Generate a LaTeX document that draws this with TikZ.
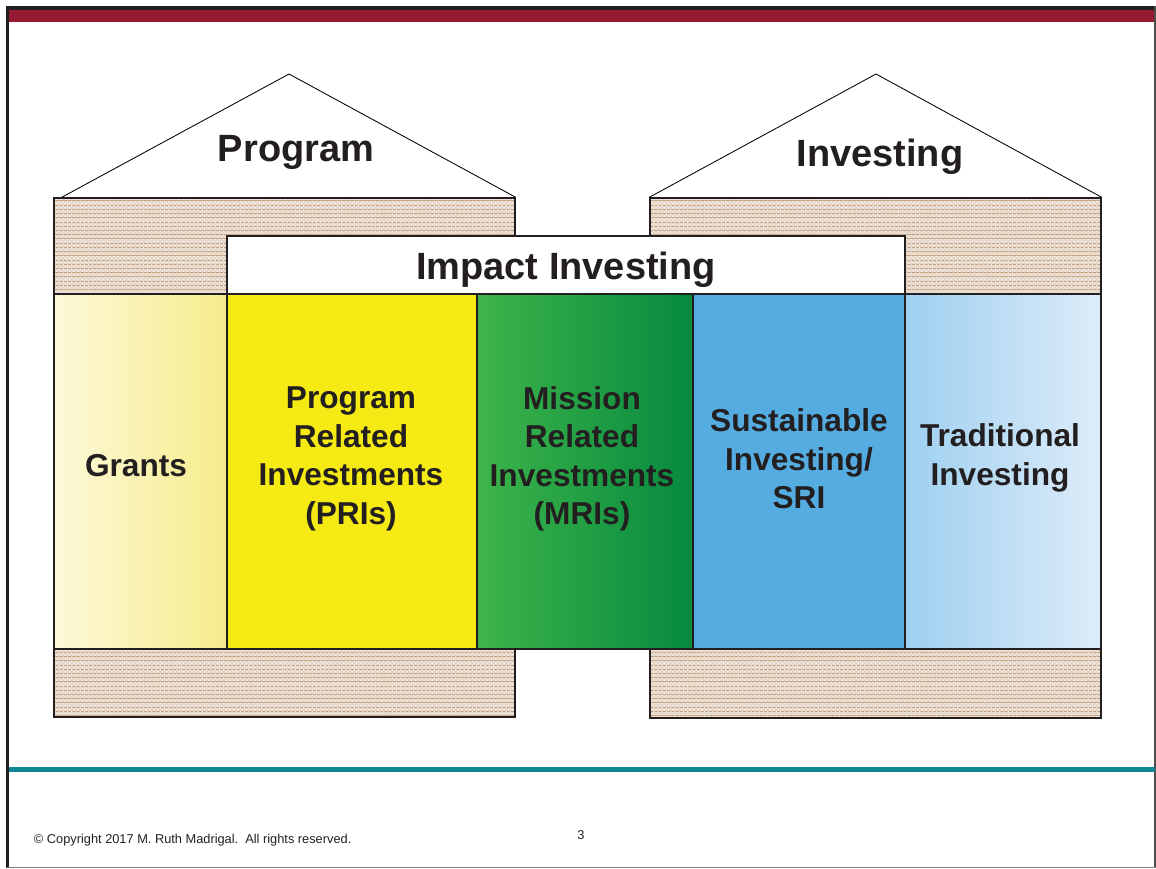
\documentclass[tikz,border=0pt]{standalone}
\usepackage{fontspec}
\setmainfont{Liberation Sans}
\usepackage{xcolor}
\usepackage{tikz}
\usetikzlibrary{patterns}
\usetikzlibrary{fit,positioning}
\definecolor{ink}{RGB}{35,31,32}
\definecolor{crimson}{RGB}{150,27,50}
\definecolor{teal}{RGB}{14,135,146}
\definecolor{tanbg}{RGB}{230,216,202}
\definecolor{tanline}{RGB}{198,162,128}
\definecolor{grantsL}{RGB}{253,249,217}
\definecolor{grantsR}{RGB}{246,236,140}
\definecolor{priyellow}{RGB}{245,234,20}
\definecolor{mriL}{RGB}{62,181,74}
\definecolor{mriM}{RGB}{12,176,75}
\definecolor{mriR}{RGB}{6,137,63}
\definecolor{sriblue}{RGB}{85,172,224}
\definecolor{tradL}{RGB}{158,208,240}
\definecolor{tradR}{RGB}{222,236,249}
\tikzset{
  wall/.style={draw=ink, line width=1pt, inner sep=0pt, preaction={fill=tanbg},
    preaction={pattern=horizontal lines, pattern color=tanline},
    preaction={pattern=crosshatch dots, pattern color=white!85!tanbg}},
  roof/.style={draw=black, line width=0.6pt},
  col/.style={draw=ink, line width=0.9pt, inner sep=0pt},
  coltext/.style={text=ink, align=center, font=\fontsize{22.5}{27.4}\selectfont\bfseries},
  title/.style={text=ink, font=\fontsize{27}{32}\selectfont\bfseries},
  foot/.style={text=ink, font=\fontsize{9.1}{10}\selectfont}
}

\begin{document}
\begin{tikzpicture}[x=0.025cm, y=-0.025cm]
  \useasboundingbox (0,0) rectangle (1156,868);
  % slide frame
  \fill[crimson] (9,10) rectangle (1155,22);
  \draw[ink, line width=2.9pt] (6,8) -- (1156,8);
  \draw[ink, line width=2.2pt] (7.5,6) -- (7.5,868);
  \draw[ink!80, line width=0.8pt] (1155,6) -- (1155,868);
  \draw[gray, line width=1pt] (7,867.3) -- (1156,867.3);
  \draw[teal, line width=3.5pt] (9,769.5) -- (1155,769.5);
  % houses
  \node[wall, fit={(54,198) (515,717)}] (progwall) {};
  \node[wall, fit={(650,198) (1101,718)}] (invwall) {};
  \coordinate (progtop) at (289,74);
  \coordinate (invtop) at (876,74);
  \draw[roof] ([xshift=6pt]progwall.north west) -- (progtop) -- (progwall.north east);
  \draw[roof] (invwall.north west) -- (invtop) -- (invwall.north east);
  \node[title] (progtitle) at (296,152) {Program};
  \node[title] (invtitle) at (880,157) {Investing};
  % impact investing band
  \node[col, fill=white, fit={(227,236) (905,294)}] (impact) {};
  \node[title] (impacttxt) at ([yshift=-3.5pt]impact.center) {Impact Investing};
  % columns
  \node[col, left color=grantsL, right color=grantsR, fit={(54,294) (227,649)}] (grants) {};
  \node[col, fill=priyellow, fit={(227,294) (477,649)}] (pri) {};
  \node[col, left color=mriL, middle color=mriM, right color=mriR, fit={(477,294) (693,649)}] (mri) {};
  \node[col, fill=sriblue, fit={(693,294) (905,649)}] (sri) {};
  \node[col, left color=tradL, right color=tradR, fit={(905,294) (1101,649)}] (trad) {};
  \node[coltext] (grantstxt) at (136,466) {Grants};
  \node[coltext] (pritxt) at (351,459) {Program\\Related\\Investments\\(PRIs)};
  \node[coltext] (mritxt) at (582,459) {Mission\\Related\\Investments\\(MRIs)};
  \node[coltext] (sritxt) at (799,459) {Sustainable\\Investing/\\SRI};
  \node[coltext] (tradtxt) at (1000,458) {Traditional\\Investing};
  % footer
  \node[foot, anchor=west] (copyright) at (29,840) {© Copyright 2017 M. Ruth Madrigal.\ \ All rights reserved.};
  \node[foot] (pagenum) at (581,835) {3};
\end{tikzpicture}
\end{document}
